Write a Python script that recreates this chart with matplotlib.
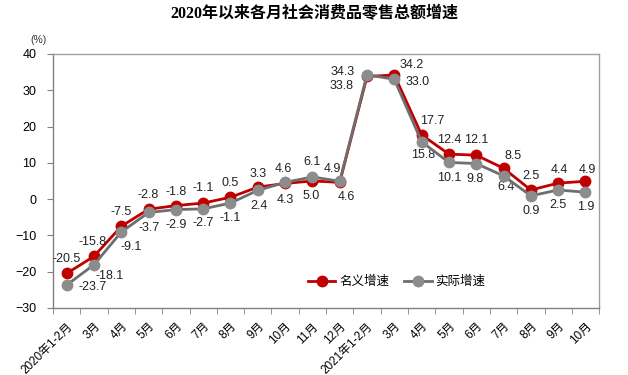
import matplotlib
matplotlib.use('Agg')
import matplotlib.pyplot as plt
import numpy as np

plt.rcParams['font.family'] = ['Liberation Sans', 'Noto Sans CJK SC']

months = ['2020年1-2月', '3月', '4月', '5月', '6月', '7月', '8月', '9月', '10月', '11月', '12月',
          '2021年1-2月', '3月', '4月', '5月', '6月', '7月', '8月', '9月', '10月']
nominal = [-20.5, -15.8, -7.5, -2.8, -1.8, -1.1, 0.5, 3.3, 4.3, 5.0, 4.6,
           33.8, 34.2, 17.7, 12.4, 12.1, 8.5, 2.5, 4.4, 4.9]
real = [-23.7, -18.1, -9.1, -3.7, -2.9, -2.7, -1.1, 2.4, 4.6, 6.1, 4.9,
        34.3, 33.0, 15.8, 10.1, 9.8, 6.4, 0.9, 2.5, 1.9]

# label offsets in pixels (dx, dy)
nominal_off = [(0, 14), (-1, 14), (0, 14), (0, 14), (0, 14), (0, 15), (0, 14), (0, 13),
               (0, -17), (-1, -15), (7, -15), (-25, -10), (17, 10), (11, 14), (0, 14),
               (0, 15), (10, 12), (0, 14), (1, 13), (2, 11)]
real_off = [(26, -2), (16, -11), (10, -15), (1, -16), (0, -15), (0, -14), (0, -15), (1, -16),
            (-2, 13), (0, 15), (-7, 12), (-24, 3), (23, -3), (1, -13), (0, -16), (-1, -15),
            (3, -11), (0, -15), (0, -15), (0, -15)]

RED = '#C00000'
GRAY_LINE = '#6E6E6E'
GRAY_MARK = '#8C8C8C'


def main():
    fig = plt.figure(figsize=(6.28, 3.75), dpi=100)
    ax = fig.add_axes([0.0844, 0.179, 0.8696, 0.677])
    x = np.arange(len(months))

    ax.plot(x, nominal, color=RED, lw=2, marker='o', ms=7.5,
            markerfacecolor=RED, markeredgecolor=RED, label='名义增速', zorder=3)
    ax.plot(x, real, color=GRAY_LINE, lw=2, marker='o', ms=7.5,
            markerfacecolor=GRAY_MARK, markeredgecolor=GRAY_MARK, label='实际增速', zorder=4)

    for i in range(len(months)):
        ax.annotate(f'{nominal[i]:.1f}', (x[i], nominal[i]), xytext=nominal_off[i],
                    textcoords='offset pixels', ha='center', va='center', fontsize=9, color='#222222')
        ax.annotate(f'{real[i]:.1f}', (x[i], real[i]), xytext=real_off[i],
                    textcoords='offset pixels', ha='center', va='center', fontsize=9, color='#222222')

    ax.set_xlim(-0.5, len(months) - 0.5)
    ax.set_ylim(-30, 40)
    ax.set_yticks(range(-30, 41, 10))
    ax.set_xticks(x)
    ax.set_xticklabels(months, rotation=45, ha='right', rotation_mode='anchor', fontsize=8.5)
    ax.set_xticks(np.arange(-0.5, len(months), 1), minor=True)
    ax.tick_params(axis='x', which='major', length=0, pad=9)
    ax.tick_params(axis='x', which='minor', length=4, color='#808080', direction='out')
    ax.tick_params(axis='y', length=4, color='#808080', labelsize=9, pad=8)
    for s in ax.spines.values():
        s.set_color('#A0A0A0')
        s.set_linewidth(1)
    ax.spines['bottom'].set_color('#808080')
    ax.spines['left'].set_color('#808080')

    ax.legend(loc='center', bbox_to_anchor=(0.629, 0.102), frameon=False, ncol=2,
              fontsize=9, handlelength=2.2, columnspacing=1.2, handletextpad=0.3)

    fig.text(0.5, 0.962, '2020年以来各月社会消费品零售总额增速', ha='center', va='center',
             fontsize=11.5, fontweight='bold', family=['Liberation Serif', 'Noto Sans CJK SC'])
    fig.text(0.062, 0.893, '(%)', ha='center', va='center', fontsize=7.5, color='#333333')

    fig.savefig('out.png', dpi=100)


if __name__ == "__main__":
    main()
